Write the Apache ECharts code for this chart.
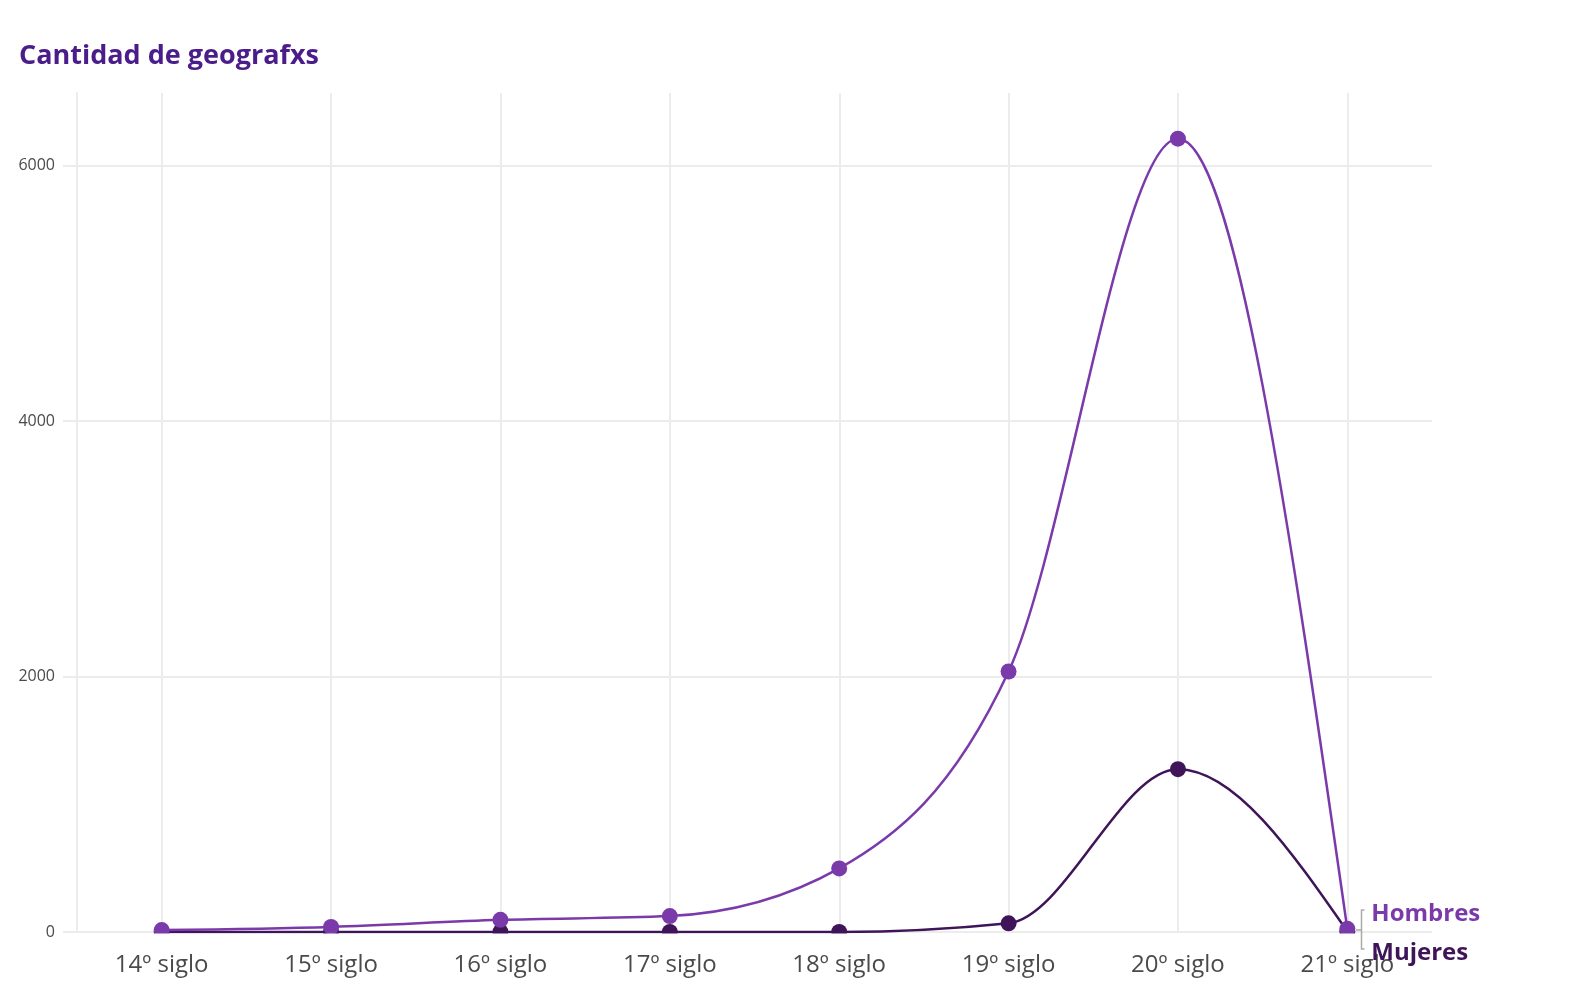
<!DOCTYPE html>
<html>
<head>
<meta charset="utf-8">
<title>Cantidad de geografxs</title>
<script src="https://cdn.jsdelivr.net/npm/echarts@6/dist/echarts.min.js"></script>
<style>
  html, body { margin: 0; padding: 0; background: #fff; }
  #chart { width: 1584px; height: 996px; }
</style>
</head>
<body>
<div id="chart"></div>
<script>
// siglos
const categories = ['14º siglo', '15º siglo', '16º siglo', '17º siglo', '18º siglo', '19º siglo', '20º siglo', '21º siglo']
// cantidad por siglo
const hombres = [15, 40, 95, 125, 498, 2040, 6212, 25]
const mujeres = [0, 0, 0, 0, 0, 68, 1275, 5]
const yTicks = [0, 2000, 4000, 6000]

const colorHombres = '#7b3aa9'
const colorMujeres = '#3f1458'
const font = 'Open Sans'

// pendientes tipo "monotone x" (como d3.curveMonotoneX), en pixeles
function monotoneSlopes(pts) {
  const n = pts.length
  const t = new Array(n).fill(0)
  const sign = x => (x < 0 ? -1 : 1)
  for (let i = 1; i < n - 1; i++) {
    const h0 = pts[i][0] - pts[i - 1][0]
    const h1 = pts[i + 1][0] - pts[i][0]
    const s0 = (pts[i][1] - pts[i - 1][1]) / h0
    const s1 = (pts[i + 1][1] - pts[i][1]) / h1
    const p = (s0 * h1 + s1 * h0) / (h0 + h1)
    t[i] = (sign(s0) + sign(s1)) * Math.min(Math.abs(s0), Math.abs(s1), 0.5 * Math.abs(p)) || 0
  }
  const h = pts[1][0] - pts[0][0]
  t[0] = (3 * (pts[1][1] - pts[0][1]) / h - t[1]) / 2
  const hn = pts[n - 1][0] - pts[n - 2][0]
  t[n - 1] = (3 * (pts[n - 1][1] - pts[n - 2][1]) / hn - t[n - 2]) / 2
  return t
}

// curva suavizada, un tramo por dato
function curveSeries(name, values, color, z) {
  return {
    name: name,
    type: 'custom',
    z: z,
    data: values.map((v, k) => [k, v]),
    encode: { x: 0, y: 1 },
    renderItem: function (params, api) {
      const i = params.dataIndex
      if (i >= values.length - 1) return null
      const pts = values.map((v, k) => api.coord([k, v]))
      const t = monotoneSlopes(pts)
      const p0 = pts[i]
      const p1 = pts[i + 1]
      const dx = (p1[0] - p0[0]) / 3
      return {
        type: 'bezierCurve',
        shape: {
          x1: p0[0], y1: p0[1], x2: p1[0], y2: p1[1],
          cpx1: p0[0] + dx, cpy1: p0[1] + dx * t[i],
          cpx2: p1[0] - dx, cpy2: p1[1] - dx * t[i + 1]
        },
        style: { stroke: color, lineWidth: 2.5, fill: null, lineCap: 'round' }
      }
    }
  }
}

// solo los puntos
function pointSeries(name, values, color, z) {
  return {
    name: name,
    type: 'line',
    z: z,
    data: values,
    symbol: 'circle',
    symbolSize: 16,
    showAllSymbol: true,
    clip: false,
    itemStyle: { color: color },
    lineStyle: { opacity: 0 }
  }
}

// solo la etiqueta final
function labelSeries(name, values, color, offset) {
  return {
    name: name,
    type: 'line',
    z: 20,
    data: values,
    symbol: 'none',
    silent: true,
    lineStyle: { opacity: 0 },
    endLabel: {
      show: true,
      formatter: '{a}',
      offset: offset,
      fontFamily: font, fontWeight: 'bold', fontSize: 24, color: color
    }
  }
}

const chart = echarts.init(document.getElementById('chart'))

const option = {
  animation: false,
  title: {
    text: 'Cantidad de geografxs',
    left: 14,
    top: 38,
    textStyle: { fontFamily: font, fontWeight: 'bold', fontSize: 27, color: '#4a1d8a' }
  },
  grid: [
    // grid principal (datos)
    { left: 77, right: 152, top: 93, bottom: 64 },
    // solo para las lineas verticales de cada siglo
    { left: 161.6, right: 236.4, top: 93, bottom: 64 }
  ],
  xAxis: [
    {
      type: 'category',
      gridIndex: 0,
      data: categories,
      boundaryGap: true,
      z: 10,
      axisLine: { show: false },
      axisTick: { alignWithLabel: true, length: 13, lineStyle: { color: '#3a0ca3', width: 2.5 } },
      axisLabel: { fontFamily: font, fontSize: 24, color: '#4a4a4a', margin: 21 },
      splitLine: { show: false }
    },
    {
      type: 'value',
      gridIndex: 1,
      min: 0,
      max: categories.length - 1,
      interval: 1,
      axisLine: { show: false },
      axisTick: { show: false },
      axisLabel: { show: false },
      splitLine: { show: true, lineStyle: { color: '#ececec', width: 2 } }
    }
  ],
  yAxis: [
    {
      type: 'value',
      gridIndex: 0,
      min: 0,
      max: 6570,
      interval: 2000,
      axisLine: { show: true, lineStyle: { color: '#ececec', width: 2 } },
      axisTick: { show: true, length: 14, lineStyle: { color: '#ececec', width: 2 } },
      axisLabel: {
        fontFamily: font, fontSize: 16, color: '#4a4a4a', margin: 22,
        showMaxLabel: false,
        formatter: v => (yTicks.includes(v) ? String(v) : '')
      },
      splitLine: { show: true, showMaxLine: false, lineStyle: { color: '#ececec', width: 2 } }
    },
    {
      type: 'value',
      gridIndex: 1,
      show: false
    }
  ],
  graphic: [
    // tapa la mitad inferior de los puntos (recorte del area)
    { type: 'rect', z: 5, shape: { x: 77, y: 933.5, width: 1281, height: 14 }, style: { fill: '#fff' } },
    // corchete de las etiquetas
    {
      type: 'polyline', z: 6,
      shape: { points: [[1364.5, 910], [1361.5, 910], [1361.5, 949], [1364.5, 949]] },
      style: { stroke: '#aaa', lineWidth: 1.5, fill: null }
    },
    {
      type: 'line', z: 6,
      shape: { x1: 1356, y1: 930, x2: 1361.5, y2: 930 },
      style: { stroke: '#aaa', lineWidth: 1.5 }
    }
  ],
  series: [
    curveSeries('Mujeres', mujeres, colorMujeres, 2),
    pointSeries('Mujeres', mujeres, colorMujeres, 3),
    curveSeries('Hombres', hombres, colorHombres, 4),
    pointSeries('Hombres', hombres, colorHombres, 4),
    labelSeries('Mujeres', mujeres, colorMujeres, [16, 22]),
    labelSeries('Hombres', hombres, colorHombres, [16, -15])
  ]
}

chart.setOption(option)

window.onresize = function () {
  chart.resize()
}
</script>
</body>
</html>
